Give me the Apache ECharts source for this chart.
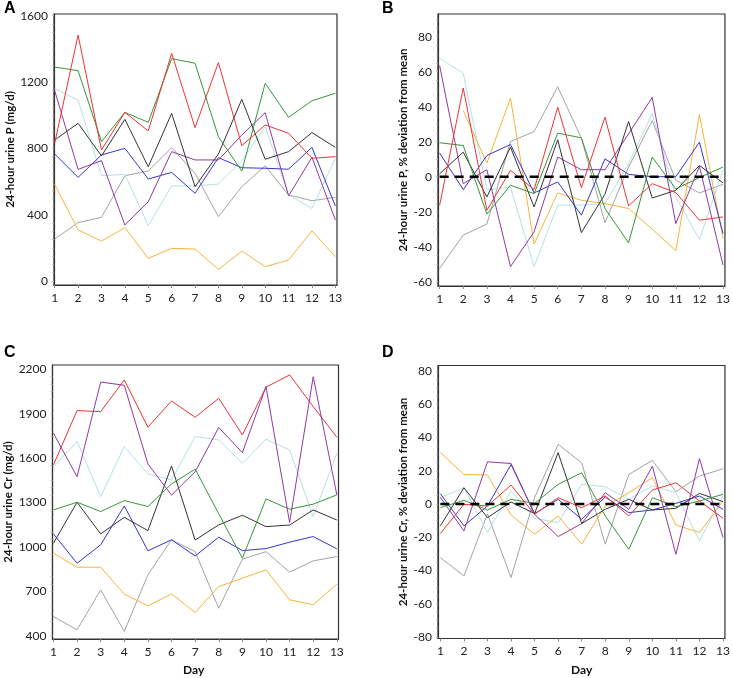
<!DOCTYPE html>
<html>
<head>
<meta charset="utf-8">
<script src="https://cdn.jsdelivr.net/npm/echarts@6/dist/echarts.min.js"></script>
<style>html,body{margin:0;padding:0;background:#fff}#c{width:733px;height:678px}</style>
</head>
<body>
<div id="c"></div>
<script>
const days = [1,2,3,4,5,6,7,8,9,10,11,12,13];

const aGreen = [1290,1268,840,1017,957,1341,1313,870,663,1192,987,1087,1132];
const aRed = [830,1483,790,1017,905,1373,925,1317,816,941,891,740,750];
const aBlack = [850,951,754,975,689,1011,569,766,1095,734,780,895,806];
const aBlue = [766,625,760,800,615,655,529,744,683,680,674,806,452];
const aPurple = [1148,673,726,338,478,780,730,730,880,1015,513,746,368];
const aLightBlue = [1160,1091,635,643,334,573,573,585,726,931,518,438,740];
const aGray = [253,352,384,635,663,804,649,388,569,694,519,484,505];
const aOrange = [583,308,241,322,137,197,193,70,181,86,127,302,147];

const bGreen = [19.4,17.8,-21.4,-4.9,-9.7,24.9,22.2,-18.2,-37.8,11.2,-7,-0.5,5.5];
const bRed = [-16.3,50.7,-19.2,3.6,-7.4,39.7,-6.3,34,-16.7,-4,-9.1,-24.9,-23];
const bBlack = [1.7,14,-11.6,16.9,-17.3,21.1,-32,-10,31.5,-12.2,-7.8,6.4,-3.6];
const bBlue = [13.5,-7.4,12.1,18.4,-9.3,-3,-22,10.2,1.3,0,0,19.7,-32.5];
const bPurple = [63.4,-4,4,-51.4,-31.5,11.2,4,4,24.5,45.3,-26.8,5.9,-50.5];
const bLightBlue = [67.7,59,-7.4,-5.9,-51.4,-16.3,-16.3,-15.4,7.4,36,-11.6,-35.9,3.6];
const bGray = [-52.4,-33.4,-27.1,20.1,25.8,51.4,22,-26.4,5.5,32,-2,-9.3,-4.4];
const bOrange = [null,37.8,7.8,45,-38.5,-9.3,-13.5,-15.4,-18.2,-30,-42.3,35.5,-35.3];

const cGreen = [1250,1302,1239,1313,1273,1426,1525,1224,924,1324,1255,1289,1352];
const cRed = [1554,1921,1914,2128,1809,1986,1876,2004,1757,2079,2162,1948,1741];
const cBlack = [1025,1302,1088,1200,1110,1547,1047,1149,1214,1137,1148,1250,1182];
const cBlue = [1088,890,1014,1277,974,1048,939,1066,975,989,1032,1070,987];
const cPurple = [1768,1474,2114,2092,1560,1350,1508,1807,1637,2083,1165,2150,1352];
const cLightBlue = [1538,1712,1340,1678,1494,1453,1746,1723,1565,1728,1655,1205,1633];
const cGray = [530,440,710,429,812,1048,968,586,917,968,830,906,935];
const cOrange = [958,863,863,681,602,683,557,732,789,845,643,609,749];

const dGreen = [-2.2,2.2,-3.6,2.8,0.4,11.8,18.8,-7.2,-27.3,3.8,-1.6,1.8,5.8];
const dRed = [-17.8,-0.2,-1.2,11.4,-6.2,3.8,-2.2,4.8,-7.2,8.4,12.8,1.8,-8.6];
const dBlack = [-13.2,9.8,-8.2,1.2,-5.8,30.9,-11.8,-3.2,2.8,-3.6,-2.6,6.4,1.4];
const dBlue = [6.2,-13.2,-1.2,23.8,-5.8,2.8,-9.2,4.2,-5.2,-3.6,0.4,4.8,-3.2];
const dPurple = [4,-16.2,25.4,24.4,-6.2,-19.6,-11.8,6.8,-3.2,22.8,-30.3,27.3,-20.2];
const dLightBlue = [3.8,9.8,-17.2,7.8,-8.6,-11.2,11.8,10.4,2.8,10.8,6.8,-22.2,4.8];
const dGray = [-32.3,-43.3,-6,-44.3,3.8,35.9,24.8,-24.2,17.8,26.2,7.4,16.8,21.2];
const dOrange = [31,17.8,17.4,-6.6,-18.2,-7.2,-24.2,-1.2,6.8,15.8,-12.6,-17.2,1.8];

const zeroLine = [0,0];
const zeroDays = [1,13];

const ticksA = [0,400,800,1200,1600];
const ticksB = [-60,-40,-20,0,20,40,60,80];
const ticksC = [400,700,1000,1300,1600,1900,2200];
const ticksD = [-80,-60,-40,-20,0,20,40,60,80];

const yNameA = '24-hour urine P (mg/d)';
const yNameB = '24-hour urine P, % deviation from mean';
const yNameC = '24-hour urine Cr (mg/d)';
const yNameD = '24-hour urine Cr, % deviation from mean';

const COL = {green:'#379637', red:'#ec3434', black:'#333333', blue:'#3636d0', purple:'#8f3a9f', lightblue:'#b7dfe6', gray:'#a3a3a3', orange:'#f8b33c'};
const FONT = 'Lato, "Open Sans", sans-serif';

function range(a,b,s){const r=[];for(let v=a;v<=b+1e-9;v+=s)r.push(Math.round(v*100)/100);return r;}

function line(idx, data, color){
  return {type:'line', xAxisIndex:idx, yAxisIndex:idx, symbol:'none', animation:false,
    data: data.map((v,i)=>[days[i], v]), lineStyle:{width:1, color:color}, connectNulls:false};
}
function dash(idx){
  return {type:'line', xAxisIndex:idx, yAxisIndex:idx, symbol:'none', animation:false, z:5,
    data: zeroDays.map((d,i)=>[d, zeroLine[i]]), lineStyle:{width:2.6, color:'#000', type:[9,6]}};
}
function fmt(v){ return String(v); }
function xAx(idx, min, max){
  return {type:'value', gridIndex:idx, min:min, max:max,
    axisLine:{show:true, onZero:false, lineStyle:{color:'#333', width:1.2}},
    axisTick:{show:true, customValues:days, length:3, lineStyle:{color:'#888'}},
    axisLabel:{customValues:days, formatter:fmt, fontFamily:FONT, fontSize:12, color:'#222', margin:7},
    splitLine:{show:false}};
}
function yAx(idx, min, max, ticks, minor, name, gap){
  return {type:'value', gridIndex:idx, min:min, max:max,
    name:name, nameLocation:'middle', nameGap:gap,
    nameTextStyle:{fontFamily:FONT, fontWeight:'bold', fontSize:11.5, color:'#111'},
    axisLine:{show:true, lineStyle:{color:'#333', width:1.2}},
    axisTick:{show:true, customValues:minor, length:2, lineStyle:{color:'#bbb'}},
    axisLabel:{customValues:ticks, formatter:fmt, fontFamily:FONT, fontSize:12, color:'#222', margin:6},
    splitLine:{show:false}};
}

const option = {
  backgroundColor:'#fff',
  animation:false,
  grid:[
    {left:54, top:14, width:283, height:271, show:true, borderColor:'#333', borderWidth:1.2},
    {left:438, top:14, width:290, height:272, show:true, borderColor:'#333', borderWidth:1.2},
    {left:52.5, top:365, width:286, height:274, show:true, borderColor:'#333', borderWidth:1.2},
    {left:438, top:365.5, width:290, height:273, show:true, borderColor:'#333', borderWidth:1.2}
  ],
  xAxis:[xAx(0,0.97,13.07), xAx(1,0.93,13.08), xAx(2,0.96,13.07), xAx(3,0.9,13.08)],
  yAxis:[
    yAx(0,-24,1610,ticksA,range(0,1600,50),yNameA,36),
    yAx(1,-62.5,93,ticksB,range(-60,90,5),yNameB,24),
    yAx(2,378,2229,ticksC,range(400,2200,50),yNameC,36),
    yAx(3,-81,83.4,ticksD,range(-80,80,5),yNameD,24)
  ],
  graphic:[
    {type:'text', left:4, top:1, style:{text:'A', font:'bold 16px Arial', fill:'#000'}},
    {type:'text', left:382, top:1, style:{text:'B', font:'bold 16px Arial', fill:'#000'}},
    {type:'text', left:4, top:345, style:{text:'C', font:'bold 16px Arial', fill:'#000'}},
    {type:'text', left:382, top:345, style:{text:'D', font:'bold 16px Arial', fill:'#000'}},
    {type:'text', left:183, top:664, style:{text:'Day', font:'bold 12px '+FONT, fill:'#111'}},
    {type:'text', left:571, top:664, style:{text:'Day', font:'bold 12px '+FONT, fill:'#111'}}
  ],
  series:[
    line(0,aGray,COL.gray), line(0,aLightBlue,COL.lightblue), line(0,aOrange,COL.orange),
    line(0,aBlue,COL.blue), line(0,aPurple,COL.purple), line(0,aBlack,COL.black),
    line(0,aGreen,COL.green), line(0,aRed,COL.red),
    line(1,bGray,COL.gray), line(1,bLightBlue,COL.lightblue), line(1,bOrange,COL.orange),
    line(1,bBlue,COL.blue), line(1,bPurple,COL.purple), line(1,bBlack,COL.black),
    line(1,bGreen,COL.green), line(1,bRed,COL.red), dash(1),
    line(2,cGray,COL.gray), line(2,cLightBlue,COL.lightblue), line(2,cOrange,COL.orange),
    line(2,cBlue,COL.blue), line(2,cBlack,COL.black), line(2,cGreen,COL.green),
    line(2,cRed,COL.red), line(2,cPurple,COL.purple),
    line(3,dGray,COL.gray), line(3,dLightBlue,COL.lightblue), line(3,dOrange,COL.orange),
    line(3,dBlue,COL.blue), line(3,dPurple,COL.purple), line(3,dBlack,COL.black),
    line(3,dGreen,COL.green), line(3,dRed,COL.red), dash(3)
  ]
};
const chart = echarts.init(document.getElementById('c'), null, {renderer:'canvas'});
chart.setOption(option);
</script>
</body>
</html>
